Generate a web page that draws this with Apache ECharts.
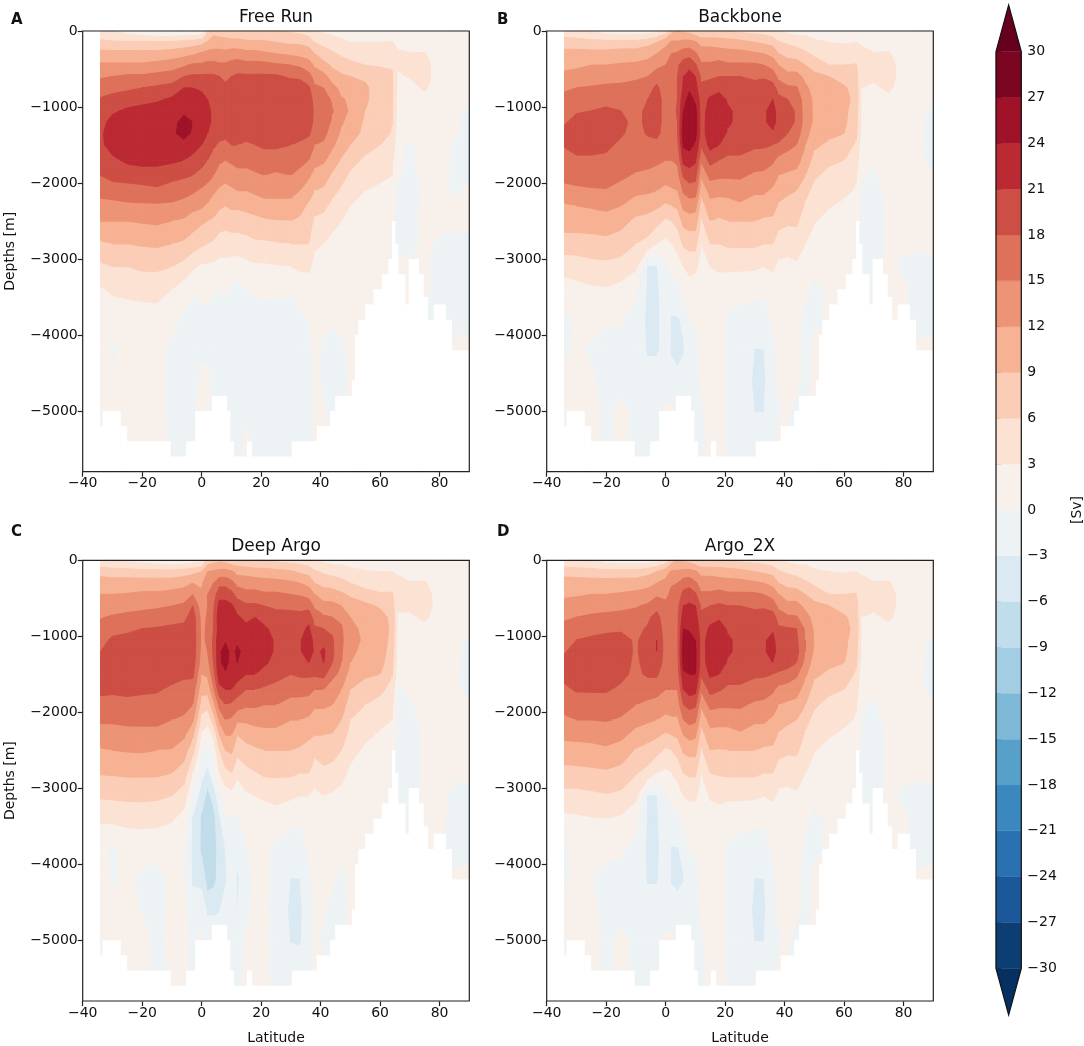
<!DOCTYPE html>
<html>
<head>
<meta charset="utf-8">
<title>Overturning streamfunction</title>
<script src="https://cdn.jsdelivr.net/npm/echarts@6/dist/echarts.min.js"></script>
<style>
    html, body { margin: 0; padding: 0; background: #fff; }
    #chart { width: 1084px; height: 1046px; }
</style>
</head>
<body>
<div id="chart"></div>
<script>
// Grid of the sections, one line per latitude in the panel arrays, one value per depth
var lats = [-34, -30, -25, -20, -15, -10, -6, -3, 0, 2, 4, 6, 8, 10, 12, 15, 18, 21, 25, 30, 33, 36, 38, 41, 44, 47, 50, 55, 60, 64, 66, 70, 75, 80, 85, 89.7];
var depths = [0, -60, -150, -300, -450, -600, -750, -900, -1050, -1200, -1350, -1500, -1700, -1900, -2100, -2300, -2500, -2800, -3100, -3400, -3800, -4200, -4600, -5000, -5400, -5800];

var freeRun = [
    [3.5,4.5,7,10,12.5,14.7,16.5,18.3,19.5,20,20.5,20.5,19.5,18,16,14,12,8.5,5.4,2.7,1,1,1,1,1,1],
    [3,4,6.5,10,12.5,15,17,19,20.5,22,22.5,22,20.5,19,16.5,14,12,9,6,3.5,1,-0.5,0.5,1,1,1],
    [2,3.5,6.5,10,12.5,15.5,17.5,19.5,21.5,22.5,23,23,21.5,19.5,16.5,14.5,12,9,6,3.7,1.5,1,1,1,1,1],
    [1.5,3,6.5,10,12.5,15.5,18,20,22,23,23.5,23,22,19.5,17,14.5,12.3,9.3,6.5,4,1.5,1,1,1,1,1],
    [1,2.5,6.5,10,13,16,18.5,20.5,22.5,23.5,23.5,23.5,22,19.5,17.5,14.5,12.5,9.5,6.5,4.2,1.5,0.7,0.7,0.7,1,1],
    [0.5,2.5,6.5,10.5,13.5,16.5,19,21.5,23,23.5,23.7,23.5,21.5,19,16.5,14.5,12,9,6,3,0.5,-0.5,-0.5,-0.5,-0.5,0.5],
    [-1,3,7,11,14.5,18,21,22.5,23.7,24.5,24.5,23.5,21,18.5,16,14,11.5,8.5,5,1.5,-0.5,-1,-1,-1,-1,-1],
    [-1,3,7.5,11.5,15.5,18.5,21,22.5,23.5,24,23.8,22.5,20,18,15.5,13,10.5,7.5,3.5,0.3,-1,-1,-1,-0.5,-1,-1],
    [-0.5,3.5,8,12.5,15.5,18.5,20.5,22,23,23,22.5,21,19,17,14.5,12.5,9.5,6.5,2.5,0.5,-0.5,-0.5,0.5,1,1,1],
    [6,7,9.5,13,16,18.5,20.5,21,21.5,21.5,21,20,18,16,14,11.5,9,6,2.5,0.5,-0.5,-0.5,0.5,0.5,0.5,0.5],
    [8,9,10.5,13,16,18.5,20,20.5,20.5,20.5,20,18.5,16.5,15,12.5,10.5,8.5,5.5,2.3,0.2,-1,-1,-1,-1,-1,-1],
    [7.5,8.5,10.5,13,15.5,18,19.5,20,20,19.5,19,17.5,15.5,13.5,11.5,9.5,7.5,4.5,2,0,-1,-1,-1,-1,-1,-1],
    [7.5,8.5,10,13,15.5,17.5,18.5,18,19.5,20,19,17,15,13,11,9,7,4.5,2,0.3,-1,-1,-1,0.5,0.5,0.5],
    [7,8,10,13.5,16,18,19.5,20,20.5,20,19,18,15.5,13.5,11.5,9.5,7.5,4.5,1.8,-0.5,-1,-1,-1,-1,-1,-1],
    [7,8,10,13.5,16.5,18.5,20,20,20.5,20.5,19.5,18,16,14,12,9.5,7.5,4.5,1.5,-0.7,-1,-1,-1,-1,-1,-1],
    [7,8,9.5,13,16,18.5,20,20.5,20.5,20,19,17.5,16,14,12,10,7.5,5,2,0,-1,-1,-1,-0.5,0.5,0.5],
    [6.5,7.5,9.5,13,16,18.5,20,20.5,20.5,20,19.5,18,16.5,14.5,12.5,10.5,8,5.5,2.5,0.3,-1,-1,-1,-1,-1,-1],
    [6.5,7.5,9.5,12.5,16,18.5,20,20.5,20.5,20.5,19.5,18.5,16.5,15,13,11,8.5,5.5,2.5,0.5,-1,-1,-1,-1,-1,-1],
    [6,7,9,12,15.5,18.5,20,20.5,20.8,20.5,19.5,18.5,16.5,14.5,13,11,8.8,5.7,2.7,0.5,-1,-1,-1,-1,-1,-1],
    [5.5,7,8.5,11.5,15,17.5,20,20.5,20.8,20.5,20,18,16,15,13,11,9,6,3,0.2,-1,-1,-1,-1,-1,-1],
    [5,6.5,8.5,11,14.5,17.5,19.5,20.5,20.5,20,19,17.5,16,14,12,10,8.5,6,3.5,1,-0.5,-1,-1,-1,-1,-1],
    [4.5,5.8,8,10.5,13.5,16,18.5,20,20.2,20,18.5,16.5,15,12.5,10.5,8.5,7,6,3.5,1.5,0,-0.5,-1,-1,-1,-1],
    [3,4,6,9,11.5,14,15.5,16.5,17.2,17,16.5,15,13,11,9,7,5.5,3.5,2,1,0.5,0.5,0.5,0.5,0.5,0.5],
    [2.5,3.5,5,7.5,10,13,15,16.5,16.8,16.5,15.8,14.5,12.5,10.3,8.5,6.8,5,3,1.5,1,0.5,-0.5,-0.7,0.5,0.5,0.5],
    [2,3,4,6.5,8.5,10.5,13,14.5,15.2,14.5,13.5,12.5,10.5,8.5,7,5,3.5,2.5,1,0.5,0.2,-0.5,-1,-1,-1,-1],
    [2,2.5,3.5,5.5,7.5,9.5,11,12.3,12.5,12.3,11.5,10.3,8.7,7,5.5,4,3,2,1,0.5,0.3,-0.3,-0.7,-0.5,-0.5,-0.5],
    [1.5,2,3,4.8,6.8,9,10.5,11.5,11.8,11,10.5,9,7,5.5,4.2,3,2.2,1.5,1,0.5,0.3,0.3,0.3,0.3,0.3,0.3],
    [1.5,2,3,4.5,6,8.5,9.5,9.3,9,8.5,8,7,5.5,4,3,2.2,1.5,1,0.7,0.3,0.3,0.3,0.3,0.3,0.3,0.3],
    [1.5,2,3,4.5,5.8,7,7.5,8,7.8,7.5,7,6,4.5,3.5,2.5,1.5,1,0.7,0.3,0.3,0.3,0.3,0.3,0.3,0.3,0.3],
    [1.5,2,3.2,4.5,5.8,6.3,6.5,6.5,6.3,6.1,5.8,4.8,3.5,3,2,1,0.5,0.2,0.2,0.2,0.2,0.2,0.2,0.2,0.2,0.2],
    [1,1.5,2,3.5,3.5,2.5,2,1.8,1.8,1.5,1.2,0.8,0.5,0.2,-0.5,-0.5,-0.5,-0.5,0.3,0.3,0.3,0.3,0.3,0.3,0.3,0.3],
    [0.5,1,1.5,3.2,3.5,3.2,2,1.5,1.5,1,0.5,-0.5,-0.5,-1,-1,-1,-0.5,-0.7,0.4,0.4,0.4,0.4,0.4,0.4,0.4,0.4],
    [0.5,1,1.5,3.2,4,4,3.4,2,1.5,1.5,1,1,1,0.8,0.5,0.5,0.5,0.3,0.3,0.3,-0.5,-0.5,-0.5,-0.5,-0.5,-0.5],
    [0.5,0.7,1,1.2,1.5,1.5,1.5,1.5,1,1,1,1,1,0.7,0.5,0.5,0.5,-0.3,-0.5,-0.5,-0.5,-0.5,-0.5,-0.5,-0.5,-0.5],
    [-0.3,0.5,0.7,1,1,1,1,1,0.8,0.5,0.3,-0.3,-0.5,-0.5,-0.3,0.3,0.3,-0.3,-0.5,-0.7,-0.5,0.5,0.5,0.5,0.5,0.5],
    [-0.7,0.5,0.5,0.7,0.7,0.7,0.5,0.3,-0.5,-0.7,-0.7,-0.7,-0.5,-0.3,0.3,0.3,0.3,-0.3,-0.7,-0.7,-0.5,0.5,0.5,0.5,0.5,0.5]
];

var backbone = [
    [4,5.5,7.5,10,11.3,12.7,14.5,16,17,17.8,18.6,18.2,17,15.8,14.2,11.5,10.5,7.5,4.3,1.5,-0.8,-0.5,0.5,0.5,0.5,0.5],
    [3.5,5,7.5,10,11.5,13,15,16.5,17.8,18.6,19,19,17.5,16,14.5,12,10.5,7.5,4.5,2,0.5,0.5,1,1,1,1],
    [3,4.5,7,10,12,13.5,15.3,16.7,18,19,19.5,19,17.5,16.2,14.7,12.3,10.5,7.8,5,2.5,0.5,-0.3,0.3,0.7,0.7,0.7],
    [2,3.5,7,10,12,14,15.5,17,18.5,19,19.2,18.5,17.5,16.3,14.8,12.7,10.8,8,5.2,2.7,0.3,-0.7,-0.5,-0.5,-0.5,-0.5],
    [1.5,3.5,7,10.5,12.3,14,15.7,17,18,18.5,18.3,17.5,16.7,15.5,14,12,10,7.5,4.8,2,0.2,-0.7,-0.7,0.5,0.5,0.5],
    [1,3.5,7,10.5,12.5,14.5,16,17,17.3,17.4,17,16.7,16,14.7,12.7,10.5,8.3,6,3.5,0.5,-1,-1,-1,-0.5,-0.5,-0.5],
    [1,4,8,11,13,15,17,18,18.5,18.5,18.3,17,15.7,14.5,12.5,10,8,5,-3.2,-3.5,-3.7,-3.4,-1.5,-1,-1,-1],
    [1.5,5,9,12,14,17,18.5,19,19.5,19.5,18.8,17,15.5,14,12,9.5,7,3,-3.2,-3.7,-3.7,-3.4,-1.5,-1,-1,-1],
    [3,7.5,11,13.5,15,16,16.5,17,16.5,16.5,16.5,16,15,13.5,11,8.5,5.5,2,-0.7,-1,-1.5,-2,-1.5,0.5,0.5,0.5],
    [8,10,12.5,15,16.5,17,17,17,17,17,17,16.5,15,14,11.5,9,6,3,0.7,-1.5,-3.3,-3.3,-2,0.5,0.5,0.5],
    [9,10,12.5,15.5,17.5,18,18,18,18.3,18,18,17,15.5,14,12,9.5,7,4,1.5,-0.5,-3.3,-3.6,-2.5,0.5,0.5,0.5],
    [8.5,10,13,16.5,19.5,21,21.5,23,24,25,25.5,24.5,22,18.5,15.5,12.8,10,6.5,3,1,-2.5,-3.3,-1,-1,-1,-1],
    [8,10,13,17,20,22.5,23.5,25,26,26.5,26.5,25,22.5,19.5,16.5,13.5,10.5,7,4,1.5,0,-0.5,-0.5,-1,-1,-1],
    [7.5,9,12.5,15.5,18.5,21,22,23.5,25,25.5,25,23.5,21.5,19,16.5,13,10.5,7,3.7,1.3,0.2,-0.5,-0.5,-1,-1,-1],
    [6.5,8,11,13.5,15.5,17.5,18.5,19.5,19.5,19.5,19.5,18.5,15.5,12.5,10,7.5,5.5,3,1.5,1,0.5,0.3,0.5,-0.5,-1,-1],
    [6.5,8,11,13.5,15.5,17.5,19.5,21.5,22.5,23,23,22,19,16,13,11,9,6,3,1.5,1,1,1,1,1,1],
    [6.5,8,10.5,13.5,16,18,20,22.5,23,23.2,22.5,21,18,15.5,13,10.5,8.5,6,3.5,1.5,1,1,1,1,1,1],
    [6,7.5,10.5,13,15.5,18,19.5,20.5,21.5,21.5,20.5,19,17.5,15.5,13,10.8,9,6.5,3.5,1.3,-0.5,-0.5,-0.5,-0.5,-0.5,-0.5],
    [5.5,7,10,13,15.5,18,19,20,20,20,20,19,17.5,15.5,13.5,11.5,9,6.5,3.5,1,-1,-1,-1,-1,-1,-0.5],
    [5,6.5,9,12.5,15.5,17.5,19,20,20.5,20.5,20,18.5,16.5,14.5,12.5,10.5,9,6.5,3.5,0.5,-1,-3.1,-3.6,-3.1,-1,-1],
    [4.5,6.3,8.5,12,15,17.5,20,20.5,20.5,20.5,20,18.5,16,14.5,12.5,10.5,8.5,6,3,0.3,-0.7,-3.1,-3.6,-3.1,-1,-1],
    [4,5.5,8,11,14,16.5,19.5,21,22,22,20.5,18,15.5,13.5,11.5,10,8.5,6,3.5,1.5,0.3,-0.5,-0.7,-1,-1,-1],
    [3,4,6.3,9,12,14.3,16.5,19,19.8,20,19.5,17.5,14,12,10,8.7,7,4.5,2.3,1,0.5,0.5,0.5,-0.3,0.5,0.5],
    [2.5,3.5,5.5,8,10.5,13,15.5,18,19.5,19.5,18,16,13.5,11.5,9.5,8,6.5,4,2.2,1,0.5,0.5,0.5,0.5,-0.5,0.5],
    [2,3,5,7.5,10.5,13,15.3,17,17.5,17.5,16.5,15,13.3,11,9,8,6.5,4.5,2.5,1,0.5,0.5,0.5,-0.5,-0.5,-0.5],
    [2,3,4.2,6.5,9,11.3,12.5,13.3,13.5,13.5,13,12,10.5,9,7,5.5,4.5,3,1.5,0.5,-0.5,-0.5,-0.5,-0.5,-0.5,-0.5],
    [1.5,2.3,3.5,5.5,7.5,10,11,11.5,11.5,11.5,10.5,9.5,8,6.5,5,4,3.2,1.5,0.5,-0.5,-0.5,0.5,0.5,0.5,0.5,0.5],
    [1.5,2,3,4.5,6,9,10,10.5,10.5,10,9.5,8.5,6.7,5,4,3.2,2,1.2,0.7,0.3,0.3,0.3,0.3,0.3,0.3,0.3],
    [1.5,2,2.8,4.2,6,7.5,9.5,10,9.7,9.5,9,8,6,4.5,3.5,2.5,1.5,1,0.5,0.5,0.5,0.5,0.5,0.5,0.5,0.5],
    [1.5,2,3,4.5,6.2,7,7.5,8,7.5,7.2,6.8,5.5,4.5,3.2,2.8,1.5,1,0.5,0.5,0.5,0.5,0.5,0.5,0.5,0.5,0.5],
    [1,1.5,2.5,4,3.8,3.3,3,2.5,2,1.8,1.5,1,0.7,0.3,-0.5,-0.5,-0.5,-0.8,-0.5,0.3,0.3,0.3,0.3,0.3,0.3,0.3],
    [0.5,1,1.5,3.2,3.8,3.5,2.5,1.5,1.2,1,0.8,0.5,0.3,-0.3,-0.5,-0.7,-0.7,-0.8,-0.5,-0.5,0.3,0.3,0.3,0.3,0.3,0.3],
    [0.5,1,1.7,3.3,4.3,4.3,3.5,2.2,1.5,1.3,1.2,1,1,0.8,0.5,0.3,0.3,0.3,0.3,0.3,0.3,0.3,0.3,0.3,0.3,0.3],
    [0.5,0.7,1,1.2,1.5,1.5,1.5,1.5,1.3,1,1,1,0.8,0.7,0.5,0.5,0.5,0.3,-0.3,0.3,0.3,0.3,0.3,0.3,0.3,0.3],
    [-0.3,0.5,0.7,1,1,1,1,1,0.8,0.5,0.5,0.3,0.3,0.5,0.5,0.5,0.5,0.3,-0.5,-0.7,-0.8,0.5,0.5,0.5,0.5,0.5],
    [-0.7,0.5,0.5,0.7,0.7,0.7,0.5,0.3,-0.5,-0.7,-0.7,-0.7,-0.5,0.2,0.5,0.5,0.5,0.3,-0.5,-0.7,-0.7,0.5,0.5,0.5,0.5,0.5]
];

var deepArgo = [
    [3.5,5,8,10.3,12,13.6,14.8,16,17,18,18.8,19,18.7,17,15.5,13.5,11.7,9.2,6.4,3.4,1,1,1,1,1,1],
    [3,4.5,7.5,10.3,12,13.8,15.3,17,18.5,19,19.5,19.7,18.5,17,15.5,13.5,12,9.3,6.5,3.7,-0.5,-0.3,0.5,0.5,0.5,0.5],
    [2.5,4,7.5,10.3,12.2,14,15.7,17.5,18.7,19.5,19.7,19.7,18.7,17.2,15.8,13.8,12.2,9.5,6.7,3.8,1,0.5,0.7,0.7,0.7,0.7],
    [2,3.5,7,10.5,12.5,14.3,16,18,18.8,19.5,19.7,19.7,18.5,17,15.7,14,12.3,9.5,6.7,4,1,-0.5,-0.2,0.7,0.7,0.7],
    [1,3.5,7,10.5,12.5,14.5,16.5,18.2,19,19.5,20,19.5,18.3,17,15.7,14,12,9.5,6.5,4,0.5,-0.7,-0.7,-0.5,-0.7,0.5],
    [0.5,3,7,10.5,13,15,17,18.5,19,19.5,19.7,19,17.5,16.5,15,13.5,11.8,9,6,3.3,0.7,0.5,0.5,0.5,0.5,0.7],
    [0.5,3.5,7.5,11,13.5,15.5,17,19,19.5,19.7,19.5,18.5,17,16,14.5,12.5,10.5,7.5,4.5,2,0.5,0.5,0.5,0.5,0.5,0.5],
    [1,4,8,12,15,18,19.5,19.8,19.8,19.8,19.5,18.5,16.7,15,12.5,9.5,7,3,-0.5,-3.3,-3.7,-3.6,-1,-0.5,-0.5,-0.5],
    [2,5,9,11.5,12.5,13.2,14,14.2,14.3,14,13.5,12,10,7.5,5,2.5,0.5,-2,-4.5,-6.5,-6.5,-4,-1,0.5,-0.5,-0.5],
    [7,9,12,14,15,15,15.3,15.5,15.5,15,14,12.5,10,7,4,1,-1,-4,-7,-7.5,-7.5,-7.5,-3.5,-1,-1,-1],
    [8,9.5,12.5,15,16.5,17.5,18,18,18.5,18.5,18,17,14.5,11,7.5,3.5,1,-1,-5,-7,-7.5,-7,-3.5,-1,-1,-1],
    [8.5,10,13,17,20,22,23,22.5,23.5,23.5,23.5,23,20,16,12.5,9,6,3,-1,-3.5,-4.8,-4.8,-3.2,-1,-1,-1],
    [8,10,13,17,20,22,22.5,22,23.5,25.5,25,23.5,21,18,15,12,9,5,1.5,-0.5,-3,-3.5,-1.5,-1,-1,-1],
    [7.5,9,12.5,16,19,21.5,22.5,23,23,23,22.8,23,21,17.5,14.5,12,9.5,6,2,0,-1.5,-1,-1,-1,-1,-1],
    [7,8.5,11,14,17,19.5,21.5,22.5,23.5,24.5,24,22.5,19.5,16.5,12.5,9,7,3.7,1,-0.5,-2,-3.5,-3,-1,-1,-1],
    [6.5,8,11,13.5,16,18.5,20,22,23,23,22.5,21,18,15.5,12.5,10,8,5,2.5,1,-0.2,-1,-0.8,0.5,0.5,0.5],
    [6,7.5,10.5,13.5,16,18.5,21,23,23.5,23.7,23,21,18,15.5,13,10.5,8.5,5.8,3,1,0.7,0.7,0.7,0.7,0.7,0.7],
    [6,7.5,10.5,13,15.5,18,20,21.5,22.5,22.5,21.5,20,17.5,15,13,11,9,6.5,3.5,1,0.5,0.5,0.5,0.5,0.5,0.7],
    [5.5,7,10,13,15.5,17.5,19,20,20.5,20.5,20,19,17,15,13,11,9,6.5,4,1.5,-0.5,-0.7,-0.7,-0.7,-0.7,-0.7],
    [5,6.5,9.5,12.5,15,17,19.5,20.5,20.3,20.2,19.5,18,16,14,12,10.5,9,6.5,3.5,0.5,-1,-3.1,-3.7,-3.2,-1,-1],
    [4.5,6.2,8.5,12,14.7,17,19,20,20.5,20.3,20,18.5,16,14,12,10.5,8.5,6,3,0.3,-1,-3.1,-3.7,-3.5,-1,-1],
    [4,5.5,8,11,14,16.8,20,21.5,23.5,24,21,18.5,16,13.5,11.5,9.5,8,6,3,1.5,0.3,-0.5,-1,-1,-1,-1],
    [3,4,6.5,9,12,14.5,16.5,18.5,19.5,20,19.5,18.5,15,12.5,10.5,9,7,4,2.5,1,0.5,0.5,0.5,0.5,0.5,0.5],
    [2.5,3.5,5.5,8,10.5,13,15.5,18,20,21.5,21,19,15,12.5,10.5,9,7,5.5,3,1,0.5,0.3,0.3,-0.5,0.5,0.5],
    [2,3,5,7.5,10.5,12.8,15,17.5,18.3,18.5,18,15.5,14,12,10,8.8,7,5,2.5,1,0.5,0.3,-0.5,-0.5,-0.5,-0.5],
    [2,3,4.5,7,9.5,12,14.5,15.3,15.5,15.3,15,14.5,12,10.5,9,7.5,6,4,2,0.8,0.3,-0.5,-0.7,-0.7,-0.7,-0.7],
    [1.5,2.5,3.8,6,8.5,10.5,12,12.5,13,12.7,12,10.5,9,7.5,6,5,4,2.3,1,0.5,0.5,0.5,0.5,0.5,0.5,0.5],
    [1.5,2,3.2,5,7,9.8,11,11.5,11.5,11,10.5,9.5,7.5,6,4.5,3.5,2.5,1.5,0.7,0.3,0.3,0.3,0.3,0.3,0.3,0.3],
    [1.5,2,3,4.5,6.3,8.5,10.5,11,10.8,10.5,10,9,6.7,5,3.5,2.7,1.7,0.9,0.5,0.5,0.5,0.5,0.5,0.5,0.5,0.5],
    [1.5,2,3,4.5,6.4,7.5,8,8.2,8,7.5,7,6.2,5,3.5,3,2,0.8,-0.3,0.3,0.3,0.3,0.3,0.3,0.3,0.3,0.3],
    [1,1.5,2.5,4,3.8,3.2,2.8,2.5,2,1.8,1.5,1,-0.5,-0.7,-0.7,-0.8,-0.8,-0.8,-0.5,0.3,0.3,0.3,0.3,0.3,0.3,0.3],
    [0.5,1,1.5,3.2,3.8,3.6,2.5,1.5,1.2,1,0.8,0.5,0.5,-0.3,-0.5,-0.7,-0.7,-0.8,-0.5,-0.5,0.3,0.3,0.3,0.3,0.3,0.3],
    [0.5,1,1.7,3.3,4.3,4.5,3.5,2.2,1.5,1.3,1.2,1,1,0.8,0.5,0.3,0.3,0.3,0.3,0.3,0.3,0.3,0.3,0.3,0.3,0.3],
    [0.5,0.7,1,1.2,1.5,1.5,1.5,1.5,1.3,1,1,1,0.8,0.7,0.5,0.5,0.5,0.5,0.5,0.5,0.5,0.5,0.5,0.5,0.5,0.5],
    [-0.3,0.5,0.7,1,1,1,1,1,0.8,0.5,0.5,0.3,0.3,0.5,0.5,0.5,0.5,0.3,-0.5,-0.7,-0.8,0.5,0.5,0.5,0.5,0.5],
    [-0.7,0.5,0.5,0.7,0.7,0.7,0.5,0.3,-0.5,-0.7,-0.7,-0.7,-0.5,0.2,0.5,0.5,0.5,0.3,-0.5,-0.7,-0.7,0.5,0.5,0.5,0.5,0.5]
];

var argo2x = [
    [3.5,5,8,10.2,11.5,13,14.5,16,17,17.8,18.7,18.8,17.5,16,14.5,12.7,10.7,8,5,2.2,-0.5,-0.5,0.7,0.7,0.7,0.7],
    [3.3,4.8,7.7,10.2,11.7,13.2,15,16.7,18,19,19.5,19.5,18.3,16.5,15,12.7,11,8,5,2.5,1,0.8,1,1,1,1],
    [3,4.5,7.3,10.3,12,13.7,15.5,17,18.5,19.5,19.7,19.7,18.3,16.7,15,13,11,8.3,5.3,2.8,0.5,0,0.5,0.7,0.7,0.7],
    [2,3.5,7,10.3,12,14,15.7,17.3,19,19.7,19.7,19.5,18.3,16.8,15.2,13.2,11.5,8.5,5.7,3,0.5,-0.7,-0.5,-0.5,-0.5,-0.5],
    [1.5,3.5,7,10.5,12.3,14.2,16,17.7,18.7,19,19,18.7,17.5,16,14.7,12.7,10.7,8,5.3,2.5,0.3,-0.7,-0.7,0.5,0.5,0.5],
    [1,3.5,7,10.5,12.7,14.7,16.2,17.3,17.7,17.7,17.5,17.3,16.5,15,13,11,8.7,6.2,3.7,1,-0.7,-1,-1,-0.5,-0.5,-0.5],
    [1,4,8,11,13.2,15.5,17.5,18.3,19,19.2,19,18.5,16,14.5,12.5,10,8,5,-3.1,-3.4,-3.6,-3.3,-1.5,-1,-1,-1],
    [1.5,5,9,12,14.5,17,19,20,21,21,20,18.5,16,14,12,9.5,7,3,-3.1,-3.5,-3.6,-3.3,-1.5,-1,-1,-1],
    [3,7,10.5,13,14.5,15.5,16,16.3,16.5,16.5,16.5,15.8,15,13.5,11,8.5,5.5,2.3,-0.2,-1,-1.5,-1.5,-1.2,0.5,0.5,0.5],
    [8,9.5,12.5,14.8,15.5,16,16.5,16.5,16.5,16.5,16.5,16,15,13.5,11.5,9,6,3,0.8,-1,-3.2,-3.2,-2,0.5,0.5,0.5],
    [9,10,12.5,15,16,17,17.3,17.3,17.3,17.3,17,16.5,15,13.5,11.5,9.5,7,4,1.5,-0.5,-3.2,-3.5,-2.2,0.5,0.5,0.5],
    [8.5,10,13,16.5,19,21,22.5,24,25,25.5,25,23.5,21,18,15,12,9.5,6,3,1,-2.2,-3.2,-1,-1,-1,-1],
    [8,10,13,17,19.5,21.5,22.5,23.5,25.5,26,25.5,24,22.5,19,16,13,10,6.5,3.5,1.5,0,-0.5,-0.5,-1,-1,-1],
    [7.5,9,12.5,15.5,18.5,21,22,23,24,24.5,24.5,24,22,18.5,15.5,12.5,10,6.5,3.5,1.3,0.2,-0.5,-0.5,-1,-1,-1],
    [6.5,8,11,13.5,15.5,17.5,18.8,19.5,19.7,19.5,19.5,18.5,15.5,12.5,10,7.5,5.5,3,1.5,1,0.5,0.3,0.5,-0.5,-1,-1],
    [6.5,8,11,13.5,15.5,18,20,21.5,22.5,22.7,22.5,21.5,19,16,13,11,9,6,3.3,1.7,1,1,1,1,1,1],
    [6.5,8,10.5,13.5,16,18.5,20.5,22.5,23,23,22.7,21,18.3,15.5,13,10.8,8.8,6.3,3.7,1.7,1,1,1,1,1,1],
    [6,7.5,10.5,13,15.5,18,19.5,20.5,21.5,21.5,20.5,19,17.5,15.5,13,10.8,9,6.5,3.5,1.3,-0.5,-0.5,-0.5,-0.5,-0.5,-0.5],
    [5.5,7,10,13,15.5,18,19,20,20,20,20,19,17.5,15.5,13.5,11.5,9,6.5,3.5,1,-1,-1,-1,-1,-1,-0.5],
    [5,6.5,9,12.5,15.5,17.5,19,20,20.5,20.5,20,18.5,16.5,14.5,12.5,10.5,9,6.5,3.5,0.5,-1,-3.1,-3.6,-3.1,-1,-1],
    [4.5,6.3,8.5,12,15,17.5,19.5,20.5,20.5,20.5,20,18.5,16,14.5,12.5,10.5,8.5,6,3,0.3,-0.7,-3.1,-3.6,-3.1,-1,-1],
    [4,5.5,8,11,14,16.5,19.5,20.5,22,22.5,21,18,15.5,13.5,11.5,10,8.5,6,3.5,1.5,0.3,-0.5,-0.7,-1,-1,-1],
    [3,4,6.3,9,12,14.3,16.5,18.5,19,19.5,19.5,17.5,14,12,10,8.7,7,4.5,2.3,1,0.5,0.5,0.5,-0.3,0.5,0.5],
    [2.5,3.5,5.5,8,10.5,13,15.5,18.3,19,19.5,19,17,13.5,11.5,9.5,8,6.5,4,2.2,1,0.5,0.5,0.5,0.5,-0.5,0.5],
    [2,3,5,7.5,10.5,13,15.3,18,18.5,19,18,15.5,13.3,11,9,8,6.5,4.5,2.5,1,0.5,0.5,0.5,-0.5,-0.5,-0.5],
    [2,3,4.2,6.5,9,11.3,13,14.5,15,15,14,12.5,10.5,9,7,5.5,4.5,3,1.5,0.5,-0.5,-0.5,-0.5,-0.5,-0.5,-0.5],
    [1.5,2.3,3.5,5.5,7.5,10,11,11.5,12,11.5,10.5,9.5,8,6.5,5,4,3.2,1.5,0.5,-0.5,-0.5,0.5,0.5,0.5,0.5,0.5],
    [1.5,2,3,4.5,6,9,10,10.5,10.5,10,9.5,8.5,6.7,5,4,3.2,2,1.2,0.7,0.3,0.3,0.3,0.3,0.3,0.3,0.3],
    [1.5,2,2.8,4.2,6,7.5,9.5,10,9.7,9.5,9,8,6,4.5,3.5,2.5,1.5,1,0.5,0.5,0.5,0.5,0.5,0.5,0.5,0.5],
    [1.5,2,3,4.5,6.2,7,7.5,8,7.5,7.2,6.8,5.5,4.5,3.2,2.8,1.5,1,0.5,0.5,0.5,0.5,0.5,0.5,0.5,0.5,0.5],
    [1,1.5,2.5,4,3.8,3.3,3,2.5,2,1.8,1.5,1,0.7,0.3,-0.5,-0.5,-0.5,-0.8,-0.5,0.3,0.3,0.3,0.3,0.3,0.3,0.3],
    [0.5,1,1.5,3.2,3.8,3.5,2.5,1.5,1.2,1,0.8,0.5,0.3,-0.3,-0.5,-0.7,-0.7,-0.8,-0.5,-0.5,0.3,0.3,0.3,0.3,0.3,0.3],
    [0.5,1,1.7,3.3,4.3,4.3,3.5,2.2,1.5,1.3,1.2,1,1,0.8,0.5,0.3,0.3,0.3,0.3,0.3,0.3,0.3,0.3,0.3,0.3,0.3],
    [0.5,0.7,1,1.2,1.5,1.5,1.5,1.5,1.3,1,1,1,0.8,0.7,0.5,0.5,0.5,0.3,-0.3,0.3,0.3,0.3,0.3,0.3,0.3,0.3],
    [-0.3,0.5,0.7,1,1,1,1,1,0.8,0.5,0.5,0.3,0.3,0.5,0.5,0.5,0.5,0.3,-0.5,-0.7,-0.8,0.5,0.5,0.5,0.5,0.5],
    [-0.7,0.5,0.5,0.7,0.7,0.7,0.5,0.3,-0.5,-0.7,-0.7,-0.7,-0.5,0.2,0.5,0.5,0.5,0.3,-0.5,-0.7,-0.7,0.5,0.5,0.5,0.5,0.5]
];

// Sea floor, common to all sections: edges of the latitude steps, and the depth of each step
var floorLats = [-36, -33.3, -27.4, -25.2, -10.6, -5.2, -2.2, 3.4, 8.4, 9.5, 10.7, 15.2, 16.8, 30.3, 38.7, 43.2, 44.9, 50.5, 51.6, 52.7, 55, 57.8, 60.6, 62.8, 64, 65, 66, 68.4, 69.6, 72.9, 74.5, 76, 78, 82, 84, 90];
var floorDepths = [-5200, -5000, -5200, -5400, -5600, -5400, -5000, -4800, -5000, -5400, -5600, -5400, -5600, -5400, -5200, -5000, -4800, -4600, -4000, -3800, -3600, -3400, -3200, -3000, -2500, -2800, -3200, -3600, -3000, -3200, -3500, -3800, -3600, -3800, -4200];

// Contour levels and colours
var levels = [-30, -27, -24, -21, -18, -15, -12, -9, -6, -3, 0, 3, 6, 9, 12, 15, 18, 21, 24, 27, 30];
var bandColors = ['#0c3e74', '#1a5899', '#2a71b2', '#3a88bd', '#57a0ca', '#7eb8d7', '#a2cde2', '#c1ddeb', '#dae9f2', '#edf2f5', '#f8f0eb', '#fce2d3', '#fbcdb6', '#f6b293', '#ec9475', '#dd715a', '#cd4e44', '#bb2a33', '#9f1228', '#7a0622'];
var underColor = '#053061';
var overColor = '#67001f';
var extendTip = 3.06;

var xTicks = [-40, -20, 0, 20, 40, 60, 80];
var yTicks = [0, -1000, -2000, -3000, -4000, -5000];

var panels = [
    { letter: 'A', title: 'Free Run', values: freeRun, left: 82.7, top: 31, letterX: 11, letterY: 13, yName: true, xName: false },
    { letter: 'B', title: 'Backbone', values: backbone, left: 546.7, top: 31, letterX: 497, letterY: 13, yName: false, xName: false },
    { letter: 'C', title: 'Deep Argo', values: deepArgo, left: 82.7, top: 560.3, letterX: 11, letterY: 525, yName: true, xName: true },
    { letter: 'D', title: 'Argo_2X', values: argo2x, left: 546.7, top: 560.3, letterX: 497, letterY: 525, yName: false, xName: true }
];

var panelWidth = 386.6;
var panelHeight = 440.7;
var fontName = '"DejaVu Sans", sans-serif';
var inkColor = '#222';

function minusSign(value) {
    return String(value).replace('-', '\u2212');
}

// Keep the part of a polygon where the corner value is on one side of a level
function clipLevel(points, level, keepAbove) {
    var out = [];
    for (var i = 0; i < points.length; i++) {
        var a = points[i];
        var b = points[(i + 1) % points.length];
        var aIn = keepAbove ? a[2] >= level : a[2] <= level;
        var bIn = keepAbove ? b[2] >= level : b[2] <= level;
        if (aIn) {
            out.push(a);
        }
        if (aIn !== bIn) {
            var t = (level - a[2]) / (b[2] - a[2]);
            out.push([a[0] + t * (b[0] - a[0]), a[1] + t * (b[1] - a[1]), level]);
        }
    }
    return out;
}

// Filled contours of one grid cell, through the axis scales
function renderCell(params, api) {
    var x0 = api.value(0), y0 = api.value(1), x1 = api.value(2), y1 = api.value(3);
    var corners = [
        [x0, y0, api.value(4)],
        [x1, y0, api.value(5)],
        [x1, y1, api.value(6)],
        [x0, y1, api.value(7)]
    ];
    var children = [];
    for (var b = 0; b < bandColors.length; b++) {
        var pts = clipLevel(clipLevel(corners, levels[b], true), levels[b + 1], false);
        if (pts.length < 3) {
            continue;
        }
        children.push({
            type: 'polygon',
            shape: { points: pts.map(function (p) { return api.coord([p[0], p[1]]); }) },
            style: { fill: bandColors[b], stroke: bandColors[b], lineWidth: 1 }
        });
    }
    return { type: 'group', children: children };
}

function renderFloor(params, api) {
    var a = api.coord([api.value(0), api.value(2)]);
    var b = api.coord([api.value(1), -5800]);
    return {
        type: 'rect',
        shape: { x: a[0], y: a[1], width: b[0] - a[0] + 0.5, height: b[1] - a[1] },
        style: { fill: '#fff' }
    };
}

function renderFrame(params, api) {
    var a = api.coord([-40, 0]);
    var b = api.coord([90, -5800]);
    return {
        type: 'rect',
        shape: { x: a[0], y: a[1], width: b[0] - a[0], height: b[1] - a[1] },
        style: { fill: 'none', stroke: inkColor, lineWidth: 1.2 }
    };
}

function cellData(values) {
    var out = [];
    for (var i = 0; i < lats.length - 1; i++) {
        for (var j = 0; j < depths.length - 1; j++) {
            out.push([lats[i], depths[j], lats[i + 1], depths[j + 1],
                values[i][j], values[i + 1][j], values[i + 1][j + 1], values[i][j + 1]]);
        }
    }
    return out;
}

var floorData = floorDepths.map(function (d, i) {
    return [floorLats[i], floorLats[i + 1], d];
});

var option = {
    animation: false,
    backgroundColor: '#fff',
    textStyle: { fontFamily: fontName, fontSize: 14, color: inkColor },
    title: [],
    grid: [],
    xAxis: [],
    yAxis: [],
    series: []
};

panels.forEach(function (p, k) {
    option.title.push({
        text: p.title,
        left: p.left + panelWidth / 2,
        top: p.top - 22,
        padding: 0,
        textAlign: 'center',
        textStyle: { fontFamily: fontName, fontSize: 17, fontWeight: 'normal', color: '#111' }
    });
    option.title.push({
        text: p.letter,
        left: p.letterX,
        top: p.letterY,
        padding: 0,
        textStyle: { fontFamily: fontName, fontSize: 15, fontWeight: 'bold', color: '#111' }
    });
    option.grid.push({
        left: p.left,
        top: p.top,
        width: panelWidth,
        height: panelHeight,
        outerBoundsMode: 'none'
    });
    option.xAxis.push({
        type: 'value',
        gridIndex: k,
        min: -40,
        max: 90,
        interval: 20,
        name: p.xName ? 'Latitude' : '',
        nameLocation: 'middle',
        nameGap: 30,
        nameTextStyle: { fontFamily: fontName, fontSize: 14, color: '#111' },
        splitLine: { show: false },
        axisLine: { show: false, onZero: false },
        axisTick: { show: true, length: 5, lineStyle: { color: inkColor, width: 1.2 }, customValues: xTicks },
        axisLabel: { margin: 5, fontFamily: fontName, fontSize: 14, color: '#111', customValues: xTicks, formatter: minusSign }
    });
    option.yAxis.push({
        type: 'value',
        gridIndex: k,
        min: -5800,
        max: 0,
        name: p.yName ? 'Depths [m]' : '',
        nameLocation: 'middle',
        nameRotate: 90,
        nameGap: 65,
        nameTextStyle: { fontFamily: fontName, fontSize: 14, color: '#111' },
        splitLine: { show: false },
        axisLine: { show: false, onZero: false },
        axisTick: { show: true, length: 5, lineStyle: { color: inkColor, width: 1.2 }, customValues: yTicks },
        axisLabel: { margin: 5, fontFamily: fontName, fontSize: 14, color: '#111', customValues: yTicks, formatter: minusSign }
    });
    option.series.push({
        type: 'custom',
        xAxisIndex: k,
        yAxisIndex: k,
        silent: true,
        progressive: 0,
        z: 2,
        encode: { x: [0, 2], y: [1, 3] },
        renderItem: renderCell,
        data: cellData(p.values)
    });
    option.series.push({
        type: 'custom',
        xAxisIndex: k,
        yAxisIndex: k,
        silent: true,
        progressive: 0,
        z: 3,
        encode: { x: [0, 1], y: 2 },
        renderItem: renderFloor,
        data: floorData
    });
    option.series.push({
        type: 'custom',
        xAxisIndex: k,
        yAxisIndex: k,
        silent: true,
        clip: false,
        z: 4,
        renderItem: renderFrame,
        data: [[0, 0]]
    });
});

//
// Colour bar
//

var cbarIndex = panels.length;

var cbarRects = bandColors.map(function (c, i) {
    return [levels[i], levels[i + 1], i];
});

option.grid.push({ left: 996, top: 51.7, width: 25.3, height: 916.6, outerBoundsMode: 'none' });
option.xAxis.push({ type: 'value', gridIndex: cbarIndex, min: 0, max: 1, show: false });
option.yAxis.push({
    type: 'value',
    gridIndex: cbarIndex,
    position: 'right',
    min: -30,
    max: 30,
    interval: 3,
    name: '[Sv]',
    nameLocation: 'middle',
    nameRotate: 90,
    nameGap: 49,
    nameTextStyle: { fontFamily: fontName, fontSize: 14, color: '#111' },
    splitLine: { show: false },
    axisLine: { show: false },
    axisTick: { show: true, length: 5, lineStyle: { color: inkColor, width: 1.2 } },
    axisLabel: { margin: 6, fontFamily: fontName, fontSize: 14, color: '#111', formatter: minusSign }
});
option.series.push({
    type: 'custom',
    xAxisIndex: cbarIndex,
    yAxisIndex: cbarIndex,
    silent: true,
    clip: false,
    progressive: 0,
    encode: { y: [0, 1] },
    renderItem: function (params, api) {
        var a = api.coord([0, api.value(1)]);
        var b = api.coord([1, api.value(0)]);
        var color = bandColors[api.value(2)];
        return {
            type: 'rect',
            shape: { x: a[0], y: a[1], width: b[0] - a[0], height: b[1] - a[1] },
            style: { fill: color, stroke: color, lineWidth: 0.4 }
        };
    },
    data: cbarRects
});
option.series.push({
    type: 'custom',
    xAxisIndex: cbarIndex,
    yAxisIndex: cbarIndex,
    silent: true,
    clip: false,
    z: 3,
    renderItem: function (params, api) {
        var top = 30 + extendTip;
        var bottom = -30 - extendTip;
        function tri(edge, tip, fill) {
            return {
                type: 'polygon',
                shape: { points: [api.coord([0, edge]), api.coord([1, edge]), api.coord([0.5, tip])] },
                style: { fill: fill }
            };
        }
        return {
            type: 'group',
            children: [
                tri(30, top, overColor),
                tri(-30, bottom, underColor),
                {
                    type: 'polygon',
                    shape: {
                        points: [
                            api.coord([0, 30]), api.coord([0.5, top]), api.coord([1, 30]),
                            api.coord([1, -30]), api.coord([0.5, bottom]), api.coord([0, -30])
                        ]
                    },
                    style: { fill: 'none', stroke: '#111', lineWidth: 1.2 }
                }
            ]
        };
    },
    data: [[0, 0]]
});

var chart = echarts.init(document.getElementById('chart'), null, { renderer: 'canvas' });
chart.setOption(option);
</script>
</body>
</html>
